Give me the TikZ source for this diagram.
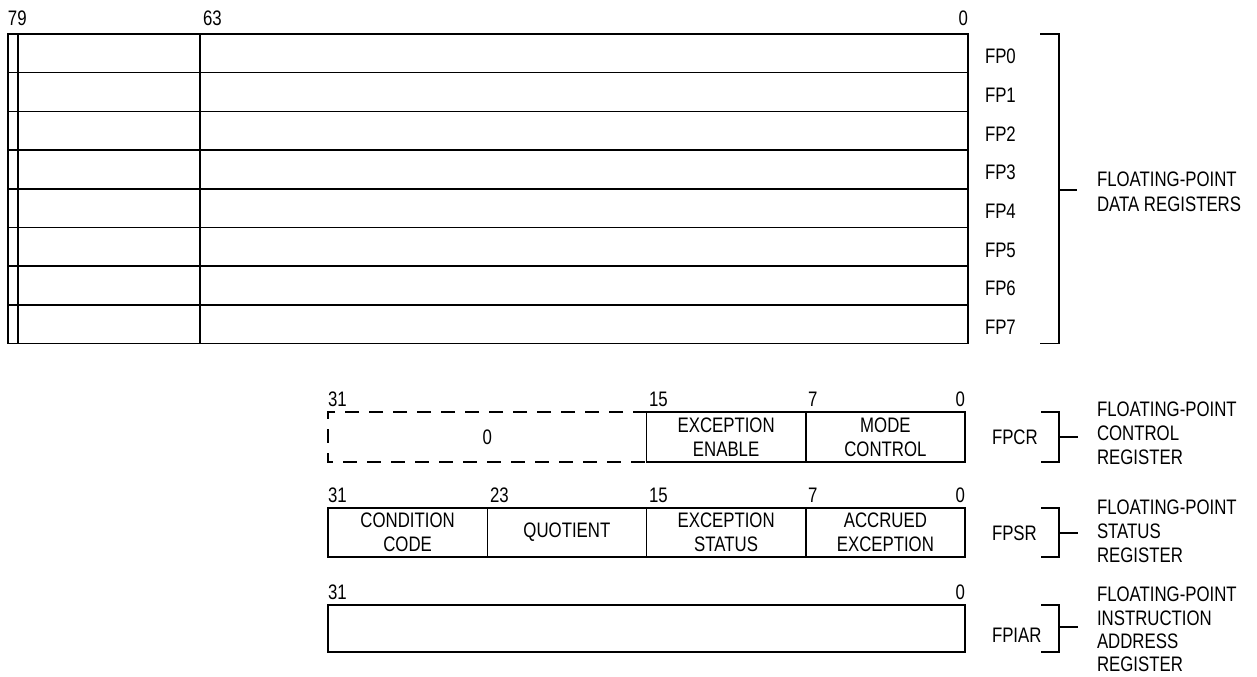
\documentclass[tikz,border=0pt]{standalone}
\usepackage{fontspec}
\setmainfont{Liberation Sans}[FakeStretch=0.8]
\begin{document}
\begin{tikzpicture}[x=0.5pt,y=-0.5pt,
  every node/.style={font=\fontsize{10.5}{12}\selectfont, inner sep=0pt, outer sep=0pt},
  ln/.style={line width=0.75pt},
  fld/.style={draw, line width=0.75pt, anchor=north west, align=center, minimum height=#1},
  bitl/.style={anchor=base west},
  bitr/.style={anchor=base east},
  reglbl/.style={anchor=west},
  desc/.style={anchor=west, align=left}]
\useasboundingbox (0,0) rectangle (1257,676);

% ---- floating-point data registers
\foreach \i in {0,...,7} {
  \pgfmathsetmacro\yt{34+38.7*\i}
  \node[fld=19.35pt, minimum width=5pt] (s\i) at (8,\yt) {};
  \node[fld=19.35pt, minimum width=91pt] (e\i) at (18,\yt) {};
  \node[fld=19.35pt, minimum width=384pt] (m\i) at (200,\yt) {};
  \node[reglbl] (fp\i) at (985,{\yt+22.5}) {FP\i};
}
\node[bitl] (b79) at (8,25) {79};
\node[bitl] (b63) at (203,25) {63};
\node[bitr] (b0) at (968,25) {0};

\coordinate (dt) at (1040,34);
\coordinate (dtc) at (1059,34);
\coordinate (dbc) at (1059,343.6);
\coordinate (db) at (1040,343.6);
\coordinate (dm) at (1059,190);
\coordinate (dmt) at (1077,190);
\draw[ln] (dt) -- (dtc) -- (dbc) -- (db);
\draw[ln] (dm) -- (dmt);
\node[desc, font=\fontsize{10.5}{12.5}\selectfont] (ddesc) at (1097,192) {FLOATING-POINT\\DATA REGISTERS};

% ---- FPCR
\node[fld=25pt, draw=none, minimum width=159.25pt] (cz) at (328,412) {0};
\draw[ln, dash pattern=on 7pt off 5pt, dash phase=0.25pt]
  (cz.north east) -- (cz.north west) -- (cz.south west) -- (cz.south east);
\node[fld=25pt, minimum width=79.625pt] (cee) at (646.5,412) {EXCEPTION\\ENABLE};
\node[fld=25pt, minimum width=79.625pt] (cmc) at (805.75,412) {MODE\\CONTROL};
\node[bitl] (c31) at (328,406) {31};
\node[bitl] (c15) at (649,406) {15};
\node[bitl] (c7) at (808,406) {7};
\node[bitr] (c0) at (965,406) {0};
\node[reglbl] (lfpcr) at (992,437) {FPCR};
\coordinate (ct) at (1041,412);
\coordinate (ctc) at (1059,412);
\coordinate (cbc) at (1059,462);
\coordinate (cb) at (1041,462);
\coordinate (cm) at (1059,437);
\coordinate (cmt) at (1078,437);
\draw[ln] (ct) -- (ctc) -- (cbc) -- (cb);
\draw[ln] (cm) -- (cmt);
\node[desc] (cdesc) at (1097,433.5) {FLOATING-POINT\\CONTROL\\REGISTER};

% ---- FPSR
\node[fld=24.5pt, minimum width=79.625pt] (scc) at (328,508) {CONDITION\\CODE};
\node[fld=24.5pt, minimum width=79.625pt] (sq) at (487.25,508) {QUOTIENT};
\node[fld=24.5pt, minimum width=79.625pt] (ses) at (646.5,508) {EXCEPTION\\STATUS};
\node[fld=24.5pt, minimum width=79.625pt] (sae) at (805.75,508) {ACCRUED\\EXCEPTION};
\node[bitl] (s31) at (328,502) {31};
\node[bitl] (s23) at (490,502) {23};
\node[bitl] (s15) at (649,502) {15};
\node[bitl] (s7) at (808,502) {7};
\node[bitr] (s0) at (965,502) {0};
\node[reglbl] (lfpsr) at (992,533) {FPSR};
\coordinate (st) at (1041,508);
\coordinate (stc) at (1059,508);
\coordinate (sbc) at (1059,557);
\coordinate (sb) at (1041,557);
\coordinate (sm) at (1059,533);
\coordinate (smt) at (1078,533);
\draw[ln] (st) -- (stc) -- (sbc) -- (sb);
\draw[ln] (sm) -- (smt);
\node[desc] (sdesc) at (1097,531.5) {FLOATING-POINT\\STATUS\\REGISTER};

% ---- FPIAR
\node[fld=23.5pt, minimum width=318.5pt] (ia) at (328,605) {};
\node[bitl] (i31) at (328,599) {31};
\node[bitr] (i0) at (965,599) {0};
\node[reglbl] (lfpiar) at (992,635) {FPIAR};
\coordinate (it) at (1041,605);
\coordinate (itc) at (1059,605);
\coordinate (ibc) at (1059,652);
\coordinate (ib) at (1041,652);
\coordinate (im) at (1059,627);
\coordinate (imt) at (1078,627);
\draw[ln] (it) -- (itc) -- (ibc) -- (ib);
\draw[ln] (im) -- (imt);
\node[desc, font=\fontsize{10.5}{11.65}\selectfont] (idesc) at (1097,629.5) {FLOATING-POINT\\INSTRUCTION\\ADDRESS\\REGISTER};
\end{tikzpicture}
\end{document}
